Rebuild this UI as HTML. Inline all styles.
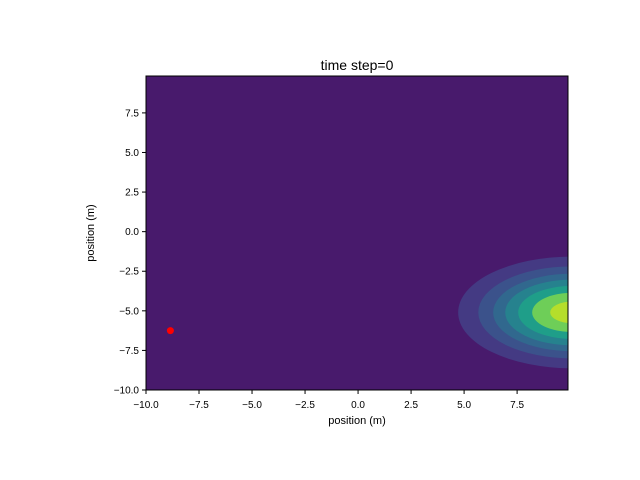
<!DOCTYPE html>
<html><head><meta charset="utf-8"><style>body{margin:0;background:#fff}svg{display:block;font-family:"Liberation Sans","DejaVu Sans",sans-serif}</style></head>
<body>
<svg id="chart" width="640" height="480">
<defs><clipPath id="clip"><rect x="146" y="76" width="422" height="314"/></clipPath></defs>
<rect x="146" y="76" width="422" height="314" fill="#481a6c"/>
<g id="contours" clip-path="url(#clip)"></g>
<g id="marks"></g>
<g id="axes"></g>
<text x="357" y="70" text-anchor="middle" font-size="14">time step=0</text>
<text x="357" y="424" text-anchor="middle" font-size="11">position (m)</text>
<text transform="translate(94,233) rotate(-90)" text-anchor="middle" font-size="11">position (m)</text>
</svg>
<script>
const xTicks=[-10,-7.5,-5,-2.5,0,2.5,5,7.5];
const yTicks=[-10,-7.5,-5,-2.5,0,2.5,5,7.5];
const blobCenter=[10.1,-5.1];
const levelRadiiX=[5.38,4.43,3.73,3.16,2.55,1.89,1.04];
const levelRatio=[0.656];
const levelColors=["#443a83","#3b528b","#31688e","#26828e","#1f9e89","#6ece58","#b5de2b","#fde725"];
const pointX=[-8.85];
const pointY=[-6.25];
const X0=146,X1=568,Y0=390,Y1=76;
const xs=v=>X0+(v+10)/19.9*(X1-X0);
const ys=v=>Y0-(v+10)/19.83*(Y0-Y1);
const NS="http://www.w3.org/2000/svg";
const c=document.getElementById('contours'),m=document.getElementById('marks'),a=document.getElementById('axes');
const pxPerX=(X1-X0)/19.9;
levelRadiiX.forEach((r,i)=>{
 const e=document.createElementNS(NS,'ellipse');
 
 
 e.setAttribute('cx',xs(blobCenter[0]));e.setAttribute('cy',ys(blobCenter[1]));
 e.setAttribute('rx',r*pxPerX);e.setAttribute('ry',r*levelRatio[0]*(Y0-Y1)/19.83);
 e.setAttribute('fill',levelColors[i]);
 c.appendChild(e);
});
pointX.forEach((v,i)=>{
 const p=document.createElementNS(NS,'circle');
 
 
 p.setAttribute('cx',xs(v));p.setAttribute('cy',ys(pointY[i]));p.setAttribute('r',3.5);p.setAttribute('fill','#ff0000');
 m.appendChild(p);
});
const fr=document.createElementNS(NS,'rect');


fr.setAttribute('x',146);fr.setAttribute('y',76);fr.setAttribute('width',422);fr.setAttribute('height',314);fr.setAttribute('fill','none');fr.setAttribute('stroke','#000');
a.appendChild(fr);
xTicks.forEach(t=>{
 const x=xs(t);
 const l=document.createElementNS(NS,'line');
 
 
 l.setAttribute('x1',x);l.setAttribute('x2',x);l.setAttribute('y1',390);l.setAttribute('y2',394);l.setAttribute('stroke','#000');
 a.appendChild(l);
 const tx=document.createElementNS(NS,'text');
 
 
 tx.setAttribute('x',x);tx.setAttribute('y',408);tx.setAttribute('text-anchor','middle');tx.setAttribute('font-size','10');
 tx.textContent=(t<0?'\u2212':'')+Math.abs(t).toFixed(1);
 a.appendChild(tx);
});
yTicks.forEach(t=>{
 const y=ys(t);
 const l=document.createElementNS(NS,'line');
 
 
 l.setAttribute('x1',142);l.setAttribute('x2',146);l.setAttribute('y1',y);l.setAttribute('y2',y);l.setAttribute('stroke','#000');
 a.appendChild(l);
 const tx=document.createElementNS(NS,'text');
 
 
 tx.setAttribute('x',139);tx.setAttribute('y',y+3.5);tx.setAttribute('text-anchor','end');tx.setAttribute('font-size','10');
 tx.textContent=(t<0?'\u2212':'')+Math.abs(t).toFixed(1);
 a.appendChild(tx);
});
</script>
</body></html>
